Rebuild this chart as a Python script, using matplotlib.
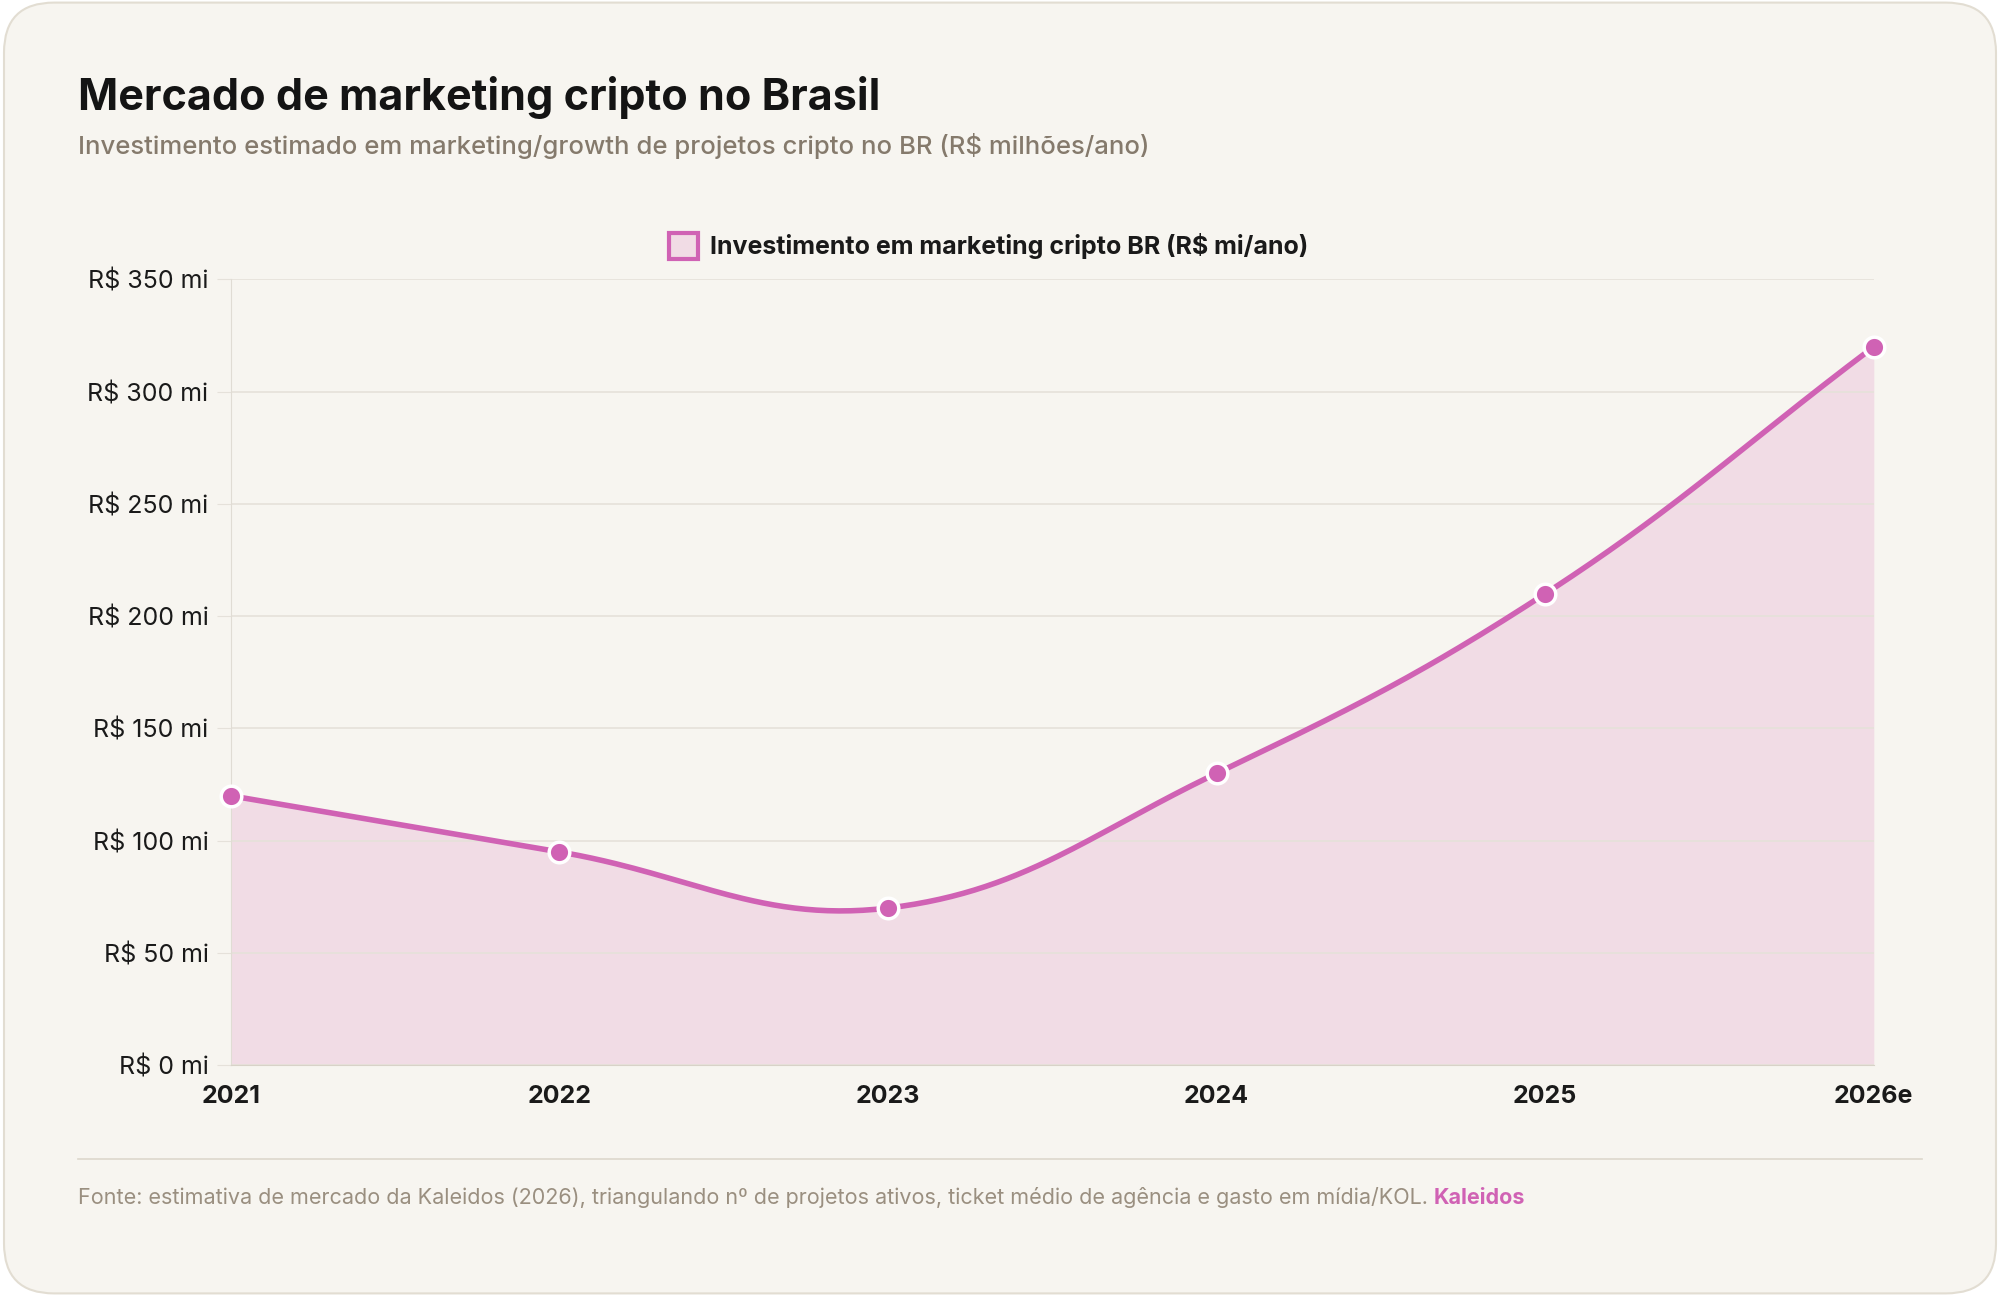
import numpy as np
import matplotlib
matplotlib.use("Agg")
import matplotlib.pyplot as plt
from matplotlib.patches import FancyBboxPatch, Rectangle
from matplotlib.ticker import FuncFormatter

years = ["2021", "2022", "2023", "2024", "2025", "2026e"]
values = [120, 95, 70, 130, 210, 320]
yticks = [0, 50, 100, 150, 200, 250, 300, 350]

plt.rcParams['font.family'] = ['Inter', 'DejaVu Sans']
LINE = "#d062b4"
FILL = "#f1dce5"

fig = plt.figure(figsize=(20, 12.96), dpi=100)
fig.patch.set_facecolor("white")
card = FancyBboxPatch((0.002, 0.002), 0.996, 0.996, boxstyle="round,pad=0,rounding_size=0.025",
                      transform=fig.transFigure, facecolor="#f7f5f0", edgecolor="#e2ddd2", lw=1.5,
                      mutation_aspect=20/12.96, zorder=-10)
fig.patches.append(card)

ax = fig.add_axes([0.1154, 0.1781, 0.8215, 0.6063])
ax.set_zorder(5)
ax.set_facecolor("none")
x = np.arange(len(values))
W, H = 1288.0, 616.0
px = x / (len(x) - 1) * W
py = np.array(values) / 350 * H

t = 0.4
cps = []
for i in range(len(px)):
    p = np.array([px[i], py[i]])
    prev = np.array([px[max(i-1, 0)], py[max(i-1, 0)]])
    nxt = np.array([px[min(i+1, len(px)-1)], py[min(i+1, len(px)-1)]])
    d01 = np.linalg.norm(p - prev); d12 = np.linalg.norm(nxt - p)
    s = d01 + d12
    s01 = d01 / s if s else 0; s12 = d12 / s if s else 0
    cps.append((p - t*s01*(nxt - prev), p + t*s12*(nxt - prev)))
cx, cy = [], []
u = np.linspace(0, 1, 60)
for i in range(len(px)-1):
    P0 = np.array([px[i], py[i]]); P3 = np.array([px[i+1], py[i+1]])
    P1 = cps[i][1]; P2 = cps[i+1][0]
    B = ((1-u)**3)[:, None]*P0 + (3*(1-u)**2*u)[:, None]*P1 + (3*(1-u)*u**2)[:, None]*P2 + (u**3)[:, None]*P3
    cx.extend(B[:, 0]); cy.extend(B[:, 1])
cx = np.array(cx) / W * (len(x)-1)
cy = np.array(cy) / H * 350

ax.fill_between(cx, cy, 0, color=FILL, lw=0, zorder=1)
ax.plot(cx, cy, color=LINE, lw=4, zorder=3, solid_capstyle="round")
ax.scatter(x, values, s=220, color=LINE, edgecolor="white", linewidth=2.5, zorder=4, clip_on=False)

ax.set_xlim(0, len(x)-1)
ax.set_ylim(0, 350)
ax.set_yticks(yticks)
ax.yaxis.set_major_formatter(FuncFormatter(lambda v, p: f"R$ {int(v)} mi"))
ax.set_xticks(x)
ax.set_xticklabels(years, fontweight="bold")
ax.tick_params(axis="y", labelsize=18, colors="#1a1a1a", length=10, color="#e5e1da", pad=6)
ax.tick_params(axis="x", labelsize=18, colors="#1a1a1a", length=0, pad=14)
ax.grid(axis="y", color="#e5e1da", lw=1.2, zorder=0)
for s in ["top", "right"]:
    ax.spines[s].set_visible(False)
ax.spines["left"].set_color("#e0dcd4")
ax.spines["bottom"].set_color("#d8d2c8")

fig.patches.append(Rectangle((0.3345, 0.7998), 0.0145, 0.0205, transform=fig.transFigure,
                             facecolor=FILL, edgecolor=LINE, lw=3))
fig.text(0.355, 0.810, "Investimento em marketing cripto BR (R$ mi/ano)", fontsize=18,
         fontweight="bold", color="#1a1a1a", va="center")

fig.text(0.039, 0.925, "Mercado de marketing cripto no Brasil", fontsize=31, fontweight="bold",
         color="#141414", va="center")
fig.text(0.039, 0.887, "Investimento estimado em marketing/growth de projetos cripto no BR (R$ milhões/ano)",
         fontsize=18.5, fontweight="medium", color="#857a6c", va="center")

fig.add_artist(plt.Line2D([0.039, 0.961], [0.106, 0.106], transform=fig.transFigure, color="#ddd7cc", lw=1.2))
t1 = fig.text(0.039, 0.076, "Fonte: estimativa de mercado da Kaleidos (2026), triangulando nº de projetos ativos, ticket médio de agência e gasto em mídia/KOL. ",
              fontsize=15.5, color="#9a8f80", va="center")
fig.canvas.draw()
bb = t1.get_window_extent().transformed(fig.transFigure.inverted())
fig.text(bb.x1, 0.076, "Kaleidos", fontsize=15.5, color=LINE, fontweight="bold", va="center")

fig.savefig("out.png", dpi=100, facecolor="white")
